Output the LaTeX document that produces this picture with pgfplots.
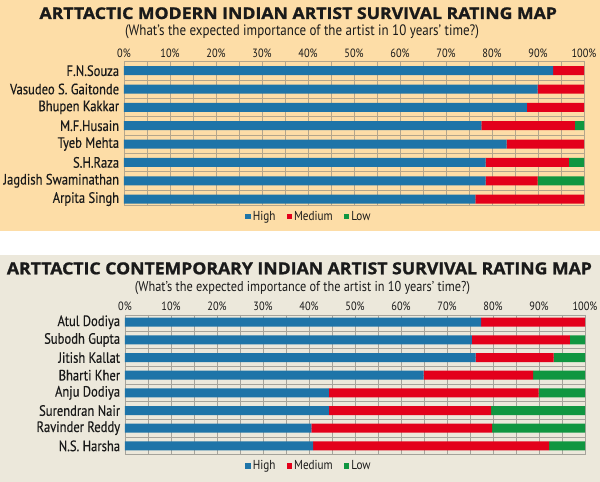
\documentclass[border=0pt]{standalone}
\usepackage{fontspec}
\setmainfont{PT Sans}[FakeStretch=0.86]
\newfontfamily\labfont{PT Sans}[FakeStretch=0.84, FakeBold=0.3]
\newfontfamily\titlefont{Open Sans}[FakeBold=1.2]
\usepackage{pgfplots}
\pgfplotsset{compat=1.18}

\definecolor{bgtop}{RGB}{253,221,167}
\definecolor{bgbot}{RGB}{236,232,219}
\definecolor{cHigh}{RGB}{30,116,168}
\definecolor{cMed}{RGB}{227,0,27}
\definecolor{cLow}{RGB}{16,150,64}
\definecolor{gridtop}{RGB}{180,166,140}
\definecolor{gridbot}{RGB}{165,163,155}
\definecolor{ink}{RGB}{26,26,26}

\pgfplotsset{
  survival/.style={
    xbar stacked, bar width=9pt,
    scale only axis, width=460pt,
    xmin=0, xmax=100, y dir=reverse,
    xtick={0,10,...,100},
    xticklabels={0\%,10\%,20\%,30\%,40\%,50\%,60\%,70\%,80\%,90\%,100\%},
    minor xtick={5,15,...,95},
    xticklabel pos=upper,
    ytick={1,...,8}, minor ytick={1.5,2.5,...,7.5},
    grid=both,
    major tick length=0pt, minor tick length=0pt,
    xticklabel style={font=\fontsize{12}{13}\selectfont, text=ink, inner sep=0pt, yshift=4pt},
    yticklabel style={font=\labfont\fontsize{15}{16}\selectfont, text=ink, inner sep=0pt, xshift=-4.7pt},
    legend columns=3,
    legend style={draw=none, fill=none, anchor=center, inner sep=0pt,
      font=\fontsize{13}{14}\selectfont, text=ink,
      /tikz/every even column/.append style={column sep=9pt}},
    legend image code/.code={\fill[#1,draw=none] (0pt,-2.8pt) rectangle (5.6pt,2.8pt);},
  },
}

\begin{document}
\begin{tikzpicture}
\useasboundingbox (0,0) rectangle (600pt,482pt);
\fill[bgtop] (0,251pt) rectangle (600pt,482pt);
\fill[bgbot] (0,0) rectangle (600pt,227pt);

% top panel
\node[anchor=base west, inner sep=0pt, text=ink] at (39.3pt,463pt)
  {\resizebox{517.4pt}{11.7pt}{\titlefont\bfseries ARTTACTIC MODERN INDIAN ARTIST SURVIVAL RATING MAP}};
\node[inner sep=0pt, text=ink] at (302pt,450pt)
  {\resizebox{354pt}{!}{\fontsize{12}{13}\selectfont (What’s the expected importance of the artist in 10 years’ time?)}};

\begin{axis}[survival,
  at={(124pt,276.3pt)}, anchor=south west, height=144pt,
  ymin=0.51, ymax=8.36,
  axis line style={gridtop},
  major grid style={gridtop, line width=0.6pt},
  minor grid style={gridtop, line width=0.6pt},
  yticklabels={F.N.Souza,Vasudeo S. Gaitonde,Bhupen Kakkar,M.F.Husain,Tyeb Mehta,S.H.Raza,Jagdish Swaminathan,Arpita Singh},
  legend style={at={(0.402,-0.076)}},
]
\addplot[fill=cHigh, draw=none] coordinates {(93.3,1) (89.9,2) (87.6,3) (77.7,4) (83.2,5) (78.6,6) (78.6,7) (76.4,8)};
\addplot[fill=cMed, draw=none] coordinates {(6.7,1) (10.1,2) (12.4,3) (20.3,4) (16.8,5) (18.1,6) (11.3,7) (23.6,8)};
\addplot[fill=cLow, draw=none] coordinates {(0,1) (0,2) (0,3) (2.0,4) (0,5) (3.3,6) (10.1,7) (0,8)};
\legend{High,Medium,Low}
\end{axis}

% bottom panel
\node[anchor=base west, inner sep=0pt, text=ink] at (6.7pt,207.7pt)
  {\resizebox{585pt}{12pt}{\titlefont\bfseries ARTTACTIC CONTEMPORARY INDIAN ARTIST SURVIVAL RATING MAP}};
\node[inner sep=0pt, text=ink] at (302.5pt,194pt)
  {\resizebox{335pt}{!}{\fontsize{12}{13}\selectfont (What’s the expected importance of the artist in 10 years’ time?)}};

\begin{axis}[survival,
  at={(125pt,28pt)}, anchor=south west, height=139pt,
  ymin=0.59, ymax=8.46,
  axis line style={gridbot},
  major grid style={gridbot, line width=0.6pt},
  minor grid style={gridbot, line width=0.6pt},
  yticklabels={Atul Dodiya,Subodh Gupta,Jitish Kallat,Bharti Kher,Anju Dodiya,Surendran Nair,Ravinder Reddy,N.S. Harsha},
  legend style={at={(0.400,-0.086)}},
]
\addplot[fill=cHigh, draw=none] coordinates {(77.4,1) (75.4,2) (76.2,3) (64.9,4) (44.3,5) (44.3,6) (40.5,7) (40.9,8)};
\addplot[fill=cMed, draw=none] coordinates {(22.6,1) (21.3,2) (17.0,3) (23.8,4) (45.6,5) (35.3,6) (39.3,7) (51.3,8)};
\addplot[fill=cLow, draw=none] coordinates {(0,1) (3.3,2) (6.8,3) (11.3,4) (10.1,5) (20.4,6) (20.2,7) (7.8,8)};
\legend{High,Medium,Low}
\end{axis}
\end{tikzpicture}
\end{document}
